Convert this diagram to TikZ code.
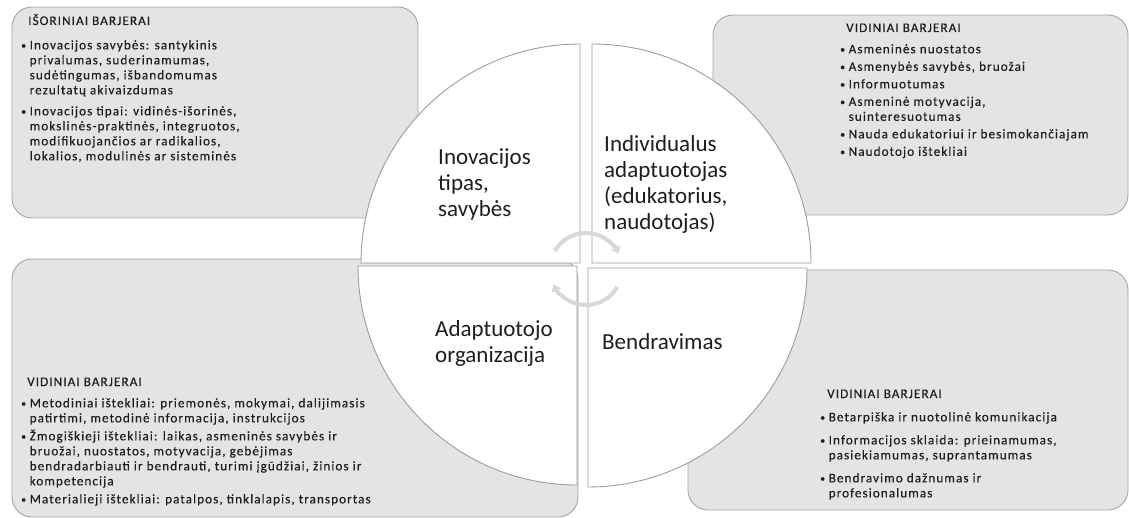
\documentclass[tikz,border=0pt]{standalone}
\usepackage{fontspec}
\setmainfont{Carlito}
\newfontfamily\boxfont[LetterSpace=8,FakeBold=0.3]{Carlito}
\usetikzlibrary{arrows.meta}
\definecolor{boxfill}{HTML}{E4E4E4}
\definecolor{boxline}{HTML}{A5A5A5}
\definecolor{quadline}{HTML}{9C9C9C}
\definecolor{cyc}{HTML}{D8D8D8}
\definecolor{txt}{HTML}{1E1E1E}
\newcommand{\bu}{\makebox[8.5pt][l]{\raisebox{0.6pt}{\scalebox{0.75}{\textbullet}}}}
\newcommand{\ind}{\hspace*{8.5pt}}
\begin{document}
\begin{tikzpicture}[x=1pt,y=-1pt,
  greybox/.style={draw=boxline, fill=boxfill, line width=0.9pt, rounded corners=20pt, inner sep=0pt},
  quad/.style={draw=quadline, fill=white, line width=0.9pt},
  boxtitle/.style={anchor=base west, inner sep=0pt, text=txt, font=\boxfont\fontsize{13.2}{15}\selectfont},
  boxlist/.style={anchor=north west, inner sep=0pt, align=left, text=txt, font=\boxfont\fontsize{13.2}{15}\selectfont},
  quadtext/.style={anchor=north west, inner sep=0pt, align=left, text=txt, font=\fontsize{23}{26}\selectfont},
  cycarrow/.style={draw=cyc, line width=4pt, -{Triangle[length=7pt,width=10pt]}}
]
\useasboundingbox (0,0) rectangle (1129,518);
% grey boxes
\node[greybox, minimum width=406pt, minimum height=211pt] (tlbox) at (215,112.5) {};
\node[greybox, minimum width=415pt, minimum height=200pt] (trbox) at (920.5,115) {};
\node[greybox, minimum width=566pt, minimum height=258pt] (blbox) at (295,388) {};
\node[greybox, minimum width=440pt, minimum height=240pt] (brbox) at (908,390) {};
% box texts
\node[boxtitle] (tltitle) at (28,25) {IŠORINIAI BARJERAI};
\node[boxlist] (tllist) at (21,40) {%
\bu Inovacijos savybės: santykinis\\
\ind privalumas, suderinamumas,\\
\ind sudėtingumas, išbandomumas\\
\ind rezultatų akivaizdumas\\[6pt]
\bu Inovacijos tipai: vidinės-išorinės,\\
\ind mokslinės-praktinės, integruotos,\\
\ind modifikuojančios ar radikalios,\\
\ind lokalios, modulinės ar sisteminės};
\node[boxtitle] (trtitle) at (846,32) {VIDINIAI BARJERAI};
\node[boxlist] (trlist) at (840,44) {%
\bu Asmeninės nuostatos\\[2.5pt]
\bu Asmenybės savybės, bruožai\\[2.5pt]
\bu Informuotumas\\[2.5pt]
\bu Asmeninė motyvacija,\\
\ind suinteresuotumas\\[2.5pt]
\bu Nauda edukatoriui ir besimokančiajam\\[2.5pt]
\bu Naudotojo ištekliai};
\node[boxtitle] (bltitle) at (27,386) {VIDINIAI BARJERAI};
\node[boxlist] (bllist) at (21,398) {%
\bu Metodiniai ištekliai: priemonės, mokymai, dalijimasis\\
\ind patirtimi, metodinė informacija, instrukcijos\\[3pt]
\bu Žmogiškieji ištekliai: laikas, asmeninės savybės ir\\
\ind bruožai, nuostatos, motyvacija, gebėjimas\\
\ind bendradarbiauti ir bendrauti, turimi įgūdžiai, žinios ir\\
\ind kompetencija\\[3pt]
\bu Materialieji ištekliai: patalpos, tinklalapis, transportas};
\node[boxtitle] (brtitle) at (827,398) {VIDINIAI BARJERAI};
\node[boxlist] (brlist) at (820,412) {%
\bu Betarpiška ir nuotolinė komunikacija\\[8pt]
\bu Informacijos sklaida: prieinamumas,\\
\ind pasiekiamumas, suprantamumas\\[8pt]
\bu Bendravimo dažnumas ir\\
\ind profesionalumas};
% quadrants
\path[quad] (580,263) -- (361,263) arc[start angle=180, end angle=270, radius=219] -- cycle;
\path[quad] (592,263) -- (592,44) arc[start angle=270, end angle=360, radius=219] -- cycle;
\path[quad] (577,266) -- (358,266) arc[start angle=180, end angle=90, radius=219] -- cycle;
\path[quad] (588,268) -- (807,268) arc[start angle=0, end angle=90, radius=219] -- cycle;
% quadrant labels
\node[quadtext] (q1) at (438,148) {Inovacijos\\tipas,\\savybės};
\node[quadtext] (q2) at (604,135) {Individualus\\adaptuotojas\\(edukatorius,\\naudotojas)};
\node[quadtext] (q3) at (435,320) {Adaptuotojo\\organizacija};
\node[quadtext, anchor=base west] (q4) at (602,349) {Bendravimas};
% cycle arrows
\draw[cycarrow] (586,269) ++(210:36) arc[start angle=210, end angle=335, radius=36];
\draw[cycarrow] (586,269) ++(30:36) arc[start angle=30, end angle=155, radius=36];
\end{tikzpicture}
\end{document}
